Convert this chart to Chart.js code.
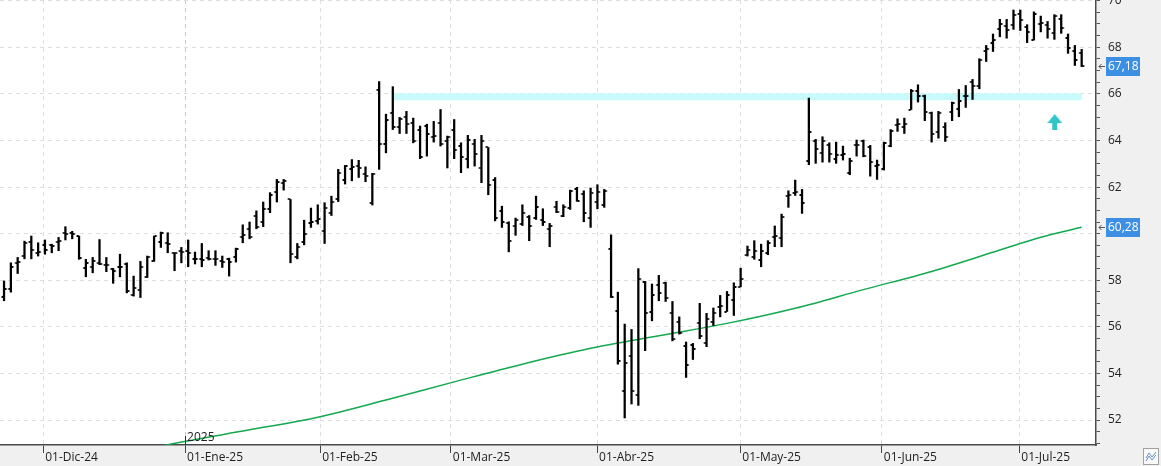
<!DOCTYPE html>
<html>
<head>
<meta charset="utf-8">
<title>Cotización</title>
<script src="https://cdn.jsdelivr.net/npm/chart.js@4.4.1/dist/chart.umd.min.js"></script>
<style>
    html, body { margin: 0; padding: 0; background: #f0f0f0; }
    canvas { display: block; }
</style>
</head>
<body>
<canvas id="graficaCotizacion" width="1161" height="466"></canvas>
<script>
// Datos diarios (una barra por sesión)
var opens = [57.29,57.61,58.75,59.04,59.64,59.15,59.51,59.50,59.64,60.04,60.01,59.90,58.51,58.58,58.75,58.65,58.48,58.55,58.72,57.36,
    57.58,58.15,58.81,59.64,59.61,59.15,59.24,59.27,58.90,58.92,58.95,58.92,58.81,58.92,58.98,59.87,60.18,60.76,60.50,61.07,
    61.81,62.19,61.47,59.01,59.65,60.47,60.55,60.10,60.90,61.47,62.30,62.76,62.90,62.56,61.33,66.16,63.85,65.19,64.56,64.99,
    64.76,64.47,64.62,64.13,64.76,63.99,64.45,63.76,63.19,63.85,62.84,63.70,62.30,60.98,60.47,60.33,60.41,60.73,60.67,60.58,
    60.18,61.16,60.78,61.10,61.93,61.70,60.66,61.38,61.21,59.35,56.69,53.23,54.75,53.06,57.92,56.66,57.78,57.89,56.58,56.21,
    55.18,55.23,56.18,55.29,56.23,56.86,56.66,57.15,57.72,59.07,58.98,58.87,59.15,59.87,59.81,61.61,61.76,61.64,63.10,63.96,
    63.47,63.79,63.19,63.39,62.62,63.79,63.96,63.73,62.90,62.76,63.76,64.68,64.56,65.33,66.13,65.90,65.16,64.36,64.59,65.22,
    65.36,65.91,66.53,66.36,67.85,68.17,68.77,68.91,68.97,69.45,68.88,68.31,69.02,68.94,68.62,69.23,68.40,67.85,67.74];
var highs = [57.97,58.75,58.98,59.68,59.90,59.61,59.73,59.55,59.84,60.30,60.10,59.90,58.90,58.98,59.75,58.98,58.51,59.12,58.75,58.18,
    58.81,59.04,59.90,60.07,60.04,59.18,59.41,59.73,59.21,59.58,59.27,59.27,59.04,58.95,59.38,60.38,60.50,60.98,61.36,61.76,
    62.33,62.33,61.47,59.58,60.58,61.10,61.24,61.33,61.61,62.76,62.93,63.18,63.15,62.87,62.59,66.53,65.13,66.31,64.99,65.25,
    64.96,64.62,64.70,64.82,65.33,64.19,64.90,63.90,64.22,64.05,64.22,63.70,62.41,61.18,60.51,60.67,61.24,60.78,61.61,61.07,
    60.44,61.39,61.24,61.87,61.99,61.84,61.96,62.10,61.90,59.95,57.49,56.12,55.89,58.50,57.95,57.84,58.21,57.92,57.09,56.43,
    55.35,55.29,57.01,56.58,56.81,57.35,57.52,57.89,58.52,59.47,59.70,59.55,59.70,60.33,60.84,61.84,62.30,61.90,65.82,64.05,
    64.16,63.90,63.93,63.76,63.24,64.02,64.02,63.79,63.16,63.93,64.47,64.93,64.96,66.19,66.39,65.95,65.22,65.25,64.76,65.65,
    66.19,66.36,66.62,67.51,68.08,68.57,69.20,69.20,69.60,69.60,68.97,69.52,69.34,69.11,69.40,69.40,68.57,68.08,67.91];
var lows = [57.12,57.49,58.29,58.92,58.92,59.04,59.12,59.18,59.27,59.73,59.78,58.90,58.15,58.32,58.67,58.37,57.87,58.15,57.46,57.32,
    57.26,58.12,58.81,59.41,59.18,58.41,58.75,58.58,58.70,58.58,58.87,58.64,58.55,58.18,58.78,59.61,59.78,60.21,60.30,60.90,
    61.36,61.87,58.75,58.92,59.52,60.27,60.41,59.58,60.78,61.38,62.13,62.27,62.41,62.23,61.23,62.76,63.47,64.47,64.30,64.30,
    63.90,63.22,63.33,63.93,63.76,62.82,63.22,62.62,62.82,62.90,62.19,61.67,60.55,60.27,59.22,59.93,60.35,59.70,60.61,60.35,
    59.44,60.90,60.73,61.04,61.39,60.51,60.27,61.07,61.13,57.26,54.40,52.09,52.69,52.63,54.98,56.26,57.12,57.09,55.40,55.69,
    53.83,54.60,55.49,55.15,56.06,56.43,56.66,56.49,57.72,59.04,58.90,58.58,59.10,59.44,59.44,61.13,61.64,60.87,62.96,63.02,
    63.07,63.07,63.02,63.16,62.53,63.33,63.30,62.47,62.33,62.73,63.73,64.39,64.30,65.33,65.65,64.85,63.93,64.10,63.96,64.85,
    65.02,65.42,65.76,66.22,67.39,67.82,68.45,68.39,68.77,68.72,68.20,68.31,68.66,68.39,68.34,68.60,67.74,67.22,67.17];
var closes = [57.61,58.55,58.78,59.58,59.32,59.22,59.30,59.45,59.70,60.00,59.98,58.95,58.75,58.84,58.72,58.67,58.41,58.58,57.55,57.65,
    58.55,59.01,59.90,60.01,59.55,59.18,59.20,59.18,58.90,58.87,58.92,58.91,58.78,58.78,59.35,59.95,59.84,60.27,61.04,61.67,
    62.21,62.27,59.12,59.44,59.98,60.50,60.64,61.10,61.38,62.59,62.90,62.87,62.80,62.47,62.56,63.87,64.90,64.59,64.91,64.70,
    63.99,63.27,64.30,64.18,63.85,64.16,63.59,63.27,64.02,63.44,63.96,62.09,60.66,60.50,59.70,60.58,60.90,60.35,61.16,60.50,
    60.35,60.94,61.16,61.84,61.39,60.87,61.73,61.81,61.84,57.29,54.55,54.43,53.26,58.04,56.61,57.35,57.44,57.24,55.50,55.75,
    54.35,55.03,55.61,56.32,56.61,56.90,57.35,57.72,58.07,59.32,59.27,59.24,59.58,59.90,60.70,61.67,61.79,61.30,64.36,63.65,
    63.99,63.42,63.39,63.42,63.13,63.82,63.33,63.07,62.96,63.90,64.42,64.72,64.70,66.13,65.93,65.22,64.30,65.16,64.16,65.59,
    65.71,65.93,66.36,67.45,67.91,68.31,68.99,68.74,69.40,69.17,68.65,69.45,69.05,68.80,69.34,68.83,67.97,67.45,67.18];

// Media móvil (posición de sesión, valor)
var maIdx = [22, 26, 36, 46, 56, 66, 76, 86, 96, 106, 116, 126, 136, 146, 152, 158];
var maVal = [50.82, 51.06, 51.58, 52.12, 52.86, 53.64, 54.40, 55.08, 55.62, 56.15, 56.80, 57.60, 58.38, 59.30, 59.85, 60.28];

// Resistencia (línea horizontal cian) y flecha
var bandIdx = [57, 158];
var bandVal = [65.88, 65.88];
var arrowIdx = [154.05];
var arrowVal = [64.79];

// Etiquetas de meses en el eje X (posición en sesiones)
var monthPos = [5.75, 26.55, 46.35, 65.5, 86.95, 107.95, 128.7, 148.85];
var monthLabels = ['01-Dic-24', '01-Ene-25', '01-Feb-25', '01-Mar-25', '01-Abr-25', '01-May-25', '01-Jun-25', '01-Jul-25'];
var yearLabel = '2025';

var FONT = '"Open Sans", "Noto Sans", sans-serif';

// Marcas de apertura (izquierda) y cierre (derecha) como imagen de punto
function make_tick(side) {
    var c = document.createElement('canvas');
    c.width = 8;
    c.height = 2;
    var g = c.getContext('2d');
    g.fillStyle = '#000';
    g.fillRect(side === 'left' ? 1.5 : 4.5, 0, 2, 2);
    return c;
}

function make_arrow() {
    var c = document.createElement('canvas');
    c.width = 15;
    c.height = 16;
    var g = c.getContext('2d');
    g.fillStyle = '#31c4c8';
    g.beginPath();
    g.moveTo(7.5, 0);
    g.lineTo(15, 9);
    g.lineTo(0, 9);
    g.closePath();
    g.fill();
    g.fillRect(5, 9, 5, 7);
    return c;
}

function fmt(v) {
    return v.toFixed(2).replace('.', ',');
}

var bgPlugin = {
    id: 'fondo',
    beforeDraw: function(chart) {
        var ctx = chart.ctx, a = chart.chartArea;
        ctx.save();
        ctx.fillStyle = '#f0f0f0';
        ctx.fillRect(0, 0, chart.width, chart.height);
        ctx.fillStyle = '#ffffff';
        ctx.fillRect(a.left, a.top, a.right - a.left, a.bottom - a.top);
        ctx.restore();
    },
    afterDraw: function(chart) {
        var ctx = chart.ctx, a = chart.chartArea;
        var xs = chart.scales.x, ys = chart.scales.y;
        ctx.save();

        // Etiqueta del año
        var xy = xs.getPixelForValue(monthPos[1]);
        ctx.strokeStyle = '#333';
        ctx.lineWidth = 1;
        ctx.beginPath();
        ctx.moveTo(Math.round(xy) + 0.5, a.bottom - 9);
        ctx.lineTo(Math.round(xy) + 0.5, a.bottom);
        ctx.stroke();
        ctx.fillStyle = '#222';
        ctx.font = '12px ' + FONT;
        ctx.textAlign = 'left';
        ctx.textBaseline = 'alphabetic';
        ctx.fillText(yearLabel, xy + 2, a.bottom - 4);

        // Valores actuales en el eje
        draw_tag(ctx, a.right, ys.getPixelForValue(closes[closes.length - 1]), fmt(closes[closes.length - 1]));
        draw_tag(ctx, a.right, ys.getPixelForValue(maVal[maVal.length - 1]), fmt(maVal[maVal.length - 1]));

        // Icono inferior derecho
        var ix = chart.width - 18, iy = a.bottom + 3;
        ctx.fillStyle = '#fafafa';
        ctx.fillRect(ix, iy, 16, 17);
        ctx.strokeStyle = '#a0a0a0';
        ctx.strokeRect(ix + 0.5, iy + 0.5, 15, 16);
        ctx.strokeStyle = '#6a8fc0';
        ctx.beginPath();
        ctx.moveTo(ix + 3, iy + 10); ctx.lineTo(ix + 6, iy + 5); ctx.lineTo(ix + 9, iy + 9); ctx.lineTo(ix + 13, iy + 4);
        ctx.moveTo(ix + 3, iy + 13); ctx.lineTo(ix + 6, iy + 8); ctx.lineTo(ix + 9, iy + 12); ctx.lineTo(ix + 13, iy + 7);
        ctx.stroke();
        ctx.restore();
    }
};

function draw_tag(ctx, right, y, text) {
    ctx.fillStyle = '#3d8fe3';
    ctx.fillRect(right + 10, Math.round(y) - 9, 34, 19);
    ctx.fillStyle = '#ffffff';
    ctx.font = '12px ' + FONT;
    ctx.textAlign = 'left';
    ctx.textBaseline = 'middle';
    ctx.fillText(text, right + 12, Math.round(y) + 1);
    ctx.strokeStyle = '#555';
    ctx.lineWidth = 1;
    ctx.beginPath();
    ctx.moveTo(right + 3, Math.round(y) + 0.5);
    ctx.lineTo(right + 9, Math.round(y) + 0.5);
    ctx.moveTo(right + 5.5, Math.round(y) - 2);
    ctx.lineTo(right + 3, Math.round(y) + 0.5);
    ctx.lineTo(right + 5.5, Math.round(y) + 3);
    ctx.stroke();
}

function render_chart() {
    var ctx = document.getElementById('graficaCotizacion').getContext('2d');

    var rangos = highs.map(function(h, i) { return { x: i, y: [lows[i], h] }; });
    var aperturas = opens.map(function(v, i) { return { x: i, y: v }; });
    var cierres = closes.map(function(v, i) { return { x: i, y: v }; });
    var media = maIdx.map(function(x, i) { return { x: x, y: maVal[i] }; });
    var banda = bandIdx.map(function(x, i) { return { x: x, y: bandVal[i] }; });
    var flecha = arrowIdx.map(function(x, i) { return { x: x, y: arrowVal[i] }; });

    var yTicks = [];
    for (var v = 51; v <= 70; v += 0.5) yTicks.push({ value: v });

    window.cotizacionChart = new Chart(ctx, {
        type: 'line',
        data: {
            datasets: [
                {
                    type: 'bar',
                    data: rangos,
                    backgroundColor: '#000',
                    borderWidth: 0,
                    barThickness: 1.6,
                    order: 1
                },
                {
                    data: aperturas,
                    showLine: false,
                    pointStyle: make_tick('left'),
                    pointRadius: 2,
                    order: 0
                },
                {
                    data: cierres,
                    showLine: false,
                    pointStyle: make_tick('right'),
                    pointRadius: 2,
                    order: 0
                },
                {
                    data: media,
                    borderColor: '#12a94f',
                    borderWidth: 1.5,
                    pointRadius: 0,
                    cubicInterpolationMode: 'monotone',
                    order: 2
                },
                {
                    data: banda,
                    borderColor: '#c8fafc',
                    borderWidth: 7,
                    pointRadius: 0,
                    order: 3
                },
                {
                    data: flecha,
                    showLine: false,
                    pointStyle: make_arrow(),
                    pointRadius: 3,
                    order: 0
                }
            ]
        },
        options: {
            responsive: false,
            animation: false,
            events: [],
            layout: { padding: 0, autoPadding: false },
            plugins: {
                legend: { display: false },
                tooltip: { enabled: false }
            },
            scales: {
                x: {
                    type: 'linear',
                    position: 'bottom',
                    offset: false,
                    min: -0.59,
                    max: 160.1,
                    afterBuildTicks: function(axis) {
                        axis.ticks = monthPos.map(function(p) { return { value: p }; });
                    },
                    afterFit: function(axis) {
                        axis.height = 21;
                        axis.paddingLeft = 0;
                        axis.paddingRight = 0;
                    },
                    ticks: {
                        autoSkip: false,
                        maxRotation: 0,
                        align: 'start',
                        labelOffset: 2,
                        padding: -3,
                        color: '#222',
                        font: { family: FONT, size: 12 },
                        callback: function(value, index) { return monthLabels[index]; }
                    },
                    grid: {
                        offset: false,
                        color: function(c) {
                            return c.tick && c.tick.value === monthPos[1] ? '#c8c8c8' : '#dedede';
                        },
                        tickColor: '#444',
                        tickLength: 8
                    },
                    border: { color: '#4a4a4a', width: 1.5, dash: [4, 4] }
                },
                y: {
                    type: 'linear',
                    position: 'right',
                    min: 50.93,
                    max: 70.03,
                    afterBuildTicks: function(axis) {
                        axis.ticks = yTicks.slice();
                    },
                    afterFit: function(axis) {
                        axis.width = 65;
                        axis.paddingTop = 0;
                        axis.paddingBottom = 0;
                    },
                    ticks: {
                        autoSkip: false,
                        padding: 8,
                        color: '#222',
                        font: { family: FONT, size: 12 },
                        callback: function(value) { return value % 2 === 0 ? String(value) : ''; }
                    },
                    grid: {
                        color: function(c) {
                            return c.tick && c.tick.value % 2 === 0 ? '#dedede' : 'rgba(0,0,0,0)';
                        },
                        tickColor: '#555',
                        tickLength: 4
                    },
                    border: { color: '#4a4a4a', width: 1.5, dash: [4, 4] }
                }
            }
        },
        plugins: [bgPlugin]
    });
}

render_chart();
</script>
</body>
</html>
